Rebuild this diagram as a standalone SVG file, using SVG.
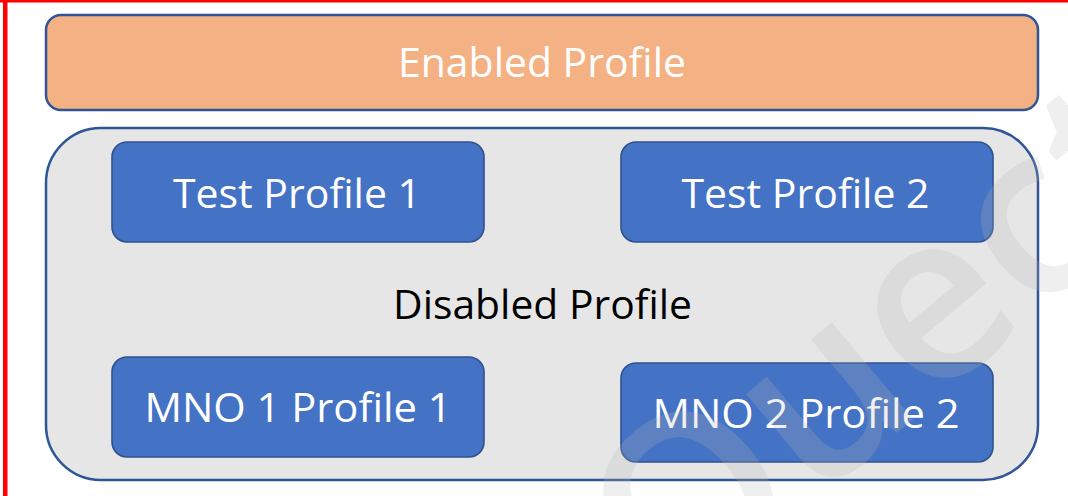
<svg xmlns="http://www.w3.org/2000/svg" width="1068" height="496" viewBox="0 0 1068 496">
<style>
.lbl{font-family:"Open Sans","Liberation Sans",sans-serif;font-size:40px;text-anchor:middle}
.white{fill:#FFFFFF}
.black{fill:#000000}
.node{fill:#4472C4;stroke:#2F528F;stroke-width:1.6}
.wm{font-family:"Open Sans","Liberation Sans",sans-serif;font-size:235px;font-weight:600;fill:#B8B8B8;fill-opacity:0.22}
</style>
<rect x="0" y="0" width="1068" height="496" fill="#FFFFFF"/>
<rect x="0" y="0" width="1068" height="2.5" fill="#FF0000"/>
<rect x="3" y="0" width="4.5" height="496" fill="#FF0000"/>
<g id="enabled">
<rect x="46" y="15" width="992" height="95" rx="15" fill="#F4B183" stroke="#2F5597" stroke-width="2.5"/>
<text class="lbl white" x="542" y="77" textLength="288" lengthAdjust="spacingAndGlyphs">Enabled Profile</text>
</g>
<g id="disabled">
<rect x="46" y="128" width="992" height="352" rx="55" fill="#E6E6E6" stroke="#2F5597" stroke-width="2.5"/>
<text class="lbl black" x="542.5" y="319" textLength="299" lengthAdjust="spacingAndGlyphs">Disabled Profile</text>
</g>
<g id="test1">
<rect class="node" x="112" y="142" width="372" height="100" rx="15"/>
<text class="lbl white" x="297" y="208" textLength="248" lengthAdjust="spacingAndGlyphs">Test Profile 1</text>
</g>
<g id="test2">
<rect class="node" x="621" y="142" width="372" height="100" rx="15"/>
<text class="lbl white" x="805.5" y="207.5" textLength="248" lengthAdjust="spacingAndGlyphs">Test Profile 2</text>
</g>
<g id="mno1">
<rect class="node" x="112" y="357" width="372" height="100" rx="15"/>
<text class="lbl white" x="298" y="421.5" textLength="307" lengthAdjust="spacingAndGlyphs">MNO 1 Profile 1</text>
</g>
<g id="mno2">
<rect class="node" x="621" y="363" width="372" height="99" rx="15"/>
<text class="lbl white" x="806" y="427.5" textLength="307" lengthAdjust="spacingAndGlyphs">MNO 2 Profile 2</text>
</g>
<g id="connectors"></g>
<text class="wm" transform="translate(672,622) rotate(-40)">Quectel</text>
</svg>
